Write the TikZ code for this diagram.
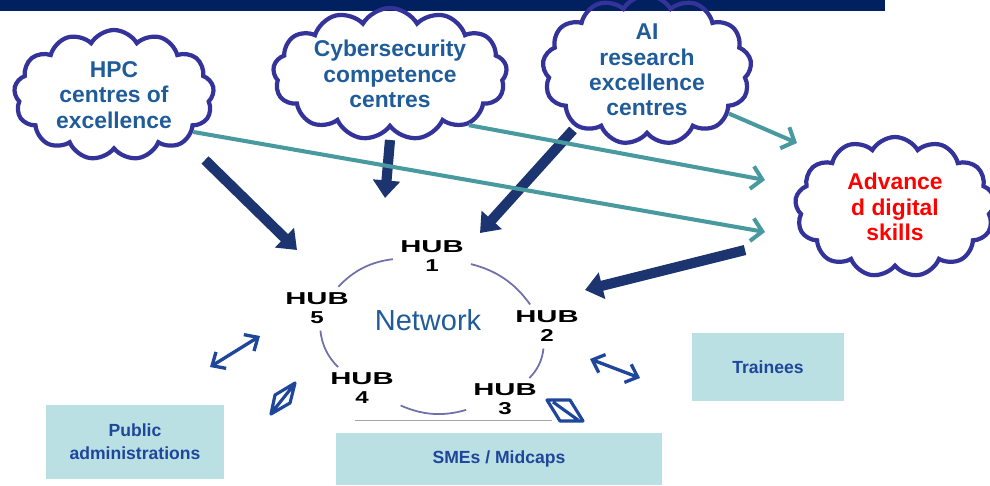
\documentclass[tikz,border=0pt]{standalone}
\usepackage{fontspec}
\setmainfont{Liberation Sans}
\usetikzlibrary{arrows, arrows.meta}
\usetikzlibrary{shapes.symbols, positioning, calc}

\definecolor{barblue}{RGB}{0,32,96}
\definecolor{cloudline}{RGB}{51,51,153}
\definecolor{cloudtext}{RGB}{31,92,153}
\definecolor{navyarrow}{RGB}{28,52,112}
\definecolor{tealarrow}{RGB}{72,154,158}
\definecolor{boxfill}{RGB}{187,224,227}
\definecolor{boxtext}{RGB}{30,70,155}
\definecolor{ringline}{RGB}{112,112,170}

\newcommand{\hubname}[1]{\scalebox{1.7}[1]{HUB}\\\scalebox{1.4}[1]{#1}}

\begin{document}
\begin{tikzpicture}[x=0.02cm, y=-0.02cm,
    bubble/.style={cloud, cloud puffs=13, cloud puff arc=120, cloud ignores aspect, draw=cloudline, line width=2.4pt, align=center, text=cloudtext, font=\fontsize{13}{14.5}\selectfont\bfseries, inner sep=0pt},
    hub/.style={align=center, font=\fontsize{9.8}{10.5}\selectfont\bfseries, inner sep=1pt},
    feed/.style={navyarrow, line width=5.8pt, -{Triangle[length=10pt, width=15pt]}},
    skill/.style={tealarrow, line width=2.3pt, -{Straight Barb[length=6pt, width=13pt]}},
    link/.style={boxtext, line width=1.9pt, {Straight Barb[length=6pt, width=11pt]}-{Straight Barb[length=6pt, width=11pt]}},
    actor/.style={fill=boxfill, align=center, text=boxtext, font=\fontsize{10}{13}\selectfont\bfseries},
    ring/.style={ringline, line width=1pt, bend left=20, shorten >=3pt, shorten <=3pt}]
      \useasboundingbox (0, 0) rectangle (990, 486);
      \fill[barblue] (0, 0) rectangle (885, 11);

      % clouds
      \node[bubble, minimum width=4cm, minimum height=2.6cm] (hpc) at (114, 95) {HPC\\centres of\\excellence};
      \node[bubble, minimum width=4.68cm, minimum height=2.64cm] (cyber) at (390, 74) {Cybersecurity\\competence\\centres};
      \node[bubble, minimum width=4.18cm, minimum height=2.6cm] (ai) at (647, 70) {AI\\research\\excellence\\centres};
      \node[bubble, minimum width=4cm, minimum height=2.8cm, text=red] (adv) at (895, 207) {Advance\\d digital\\skills};

      % network of hubs
      \node[font=\fontsize{16.5}{18}\selectfont, text=cloudtext] (net) at (428, 320) {Network};
      \node[hub] (hub1) at (432, 256) {\hubname{1}};
      \node[hub] (hub2) at (547, 326) {\hubname{2}};
      \node[hub] (hub3) at (505, 399) {\hubname{3}};
      \node[hub] (hub4) at (362, 388) {\hubname{4}};
      \node[hub] (hub5) at (317, 308) {\hubname{5}};
      \draw[ring] (hub5) to (hub1);
      \draw[ring] (hub1) to (hub2);
      \draw[ring] (hub2) to (hub3);
      \draw[ring] (hub3) to (hub4);
      \draw[ring] (hub4) to (hub5);
      \draw[gray!70] (355, 420) -- (552, 420);

      % boxes
      \node[actor, minimum width=3.56cm, minimum height=1.48cm] (public) at (135, 442) {Public\\administrations};
      \node[actor, minimum width=6.52cm, minimum height=1.04cm] (smes) at (499, 459) {SMEs / Midcaps};
      \node[actor, minimum width=3.06cm, minimum height=1.36cm] (trainees) at (768, 367) {Trainees};

      % arrow ends
      \coordinate (hpc-tail) at (205, 160);
      \coordinate (hpc-tip) at (297, 250);
      \coordinate (cyber-tail) at (390, 140);
      \coordinate (cyber-tip) at (385, 198);
      \coordinate (ai-tail) at (573, 130);
      \coordinate (ai-tip) at (480, 233);
      \coordinate (adv-tail) at (745, 250);
      \coordinate (adv-tip) at (585, 290);
      \coordinate (skill-a) at (765, 232);
      \coordinate (skill-b) at (765, 180);
      \coordinate (skill-c) at (797, 143);

      \draw[feed] (hpc-tail) -- (hpc-tip);
      \draw[feed] (cyber-tail) -- (cyber-tip);
      \draw[feed] (ai-tail) -- (ai-tip);
      \draw[feed] (adv-tail) -- (adv-tip);

      \draw[skill] (hpc.-25) -- (skill-a);
      \draw[skill] (cyber.-33) -- (skill-b);
      \draw[skill] (ai.-28) -- (skill-c);

      \coordinate (pub-a) at (210, 367);
      \coordinate (pub-b) at (260, 336);
      \coordinate (tr-a) at (590, 359);
      \coordinate (tr-b) at (640, 378);
      \draw[link] (pub-a) -- (pub-b);
      \draw[link] (tr-a) -- (tr-b);

      \draw[boxtext, line width=1.8pt, line join=round] (295, 383) -- (275, 395) -- (271, 414) -- (290, 403) -- cycle (273, 411) -- (293, 386);
      \draw[boxtext, line width=1.8pt, line join=round] (547, 400) -- (570, 400) -- (583, 421) -- (560, 421) -- cycle (553, 402) -- (578, 420);

    \end{tikzpicture}
\end{document}
